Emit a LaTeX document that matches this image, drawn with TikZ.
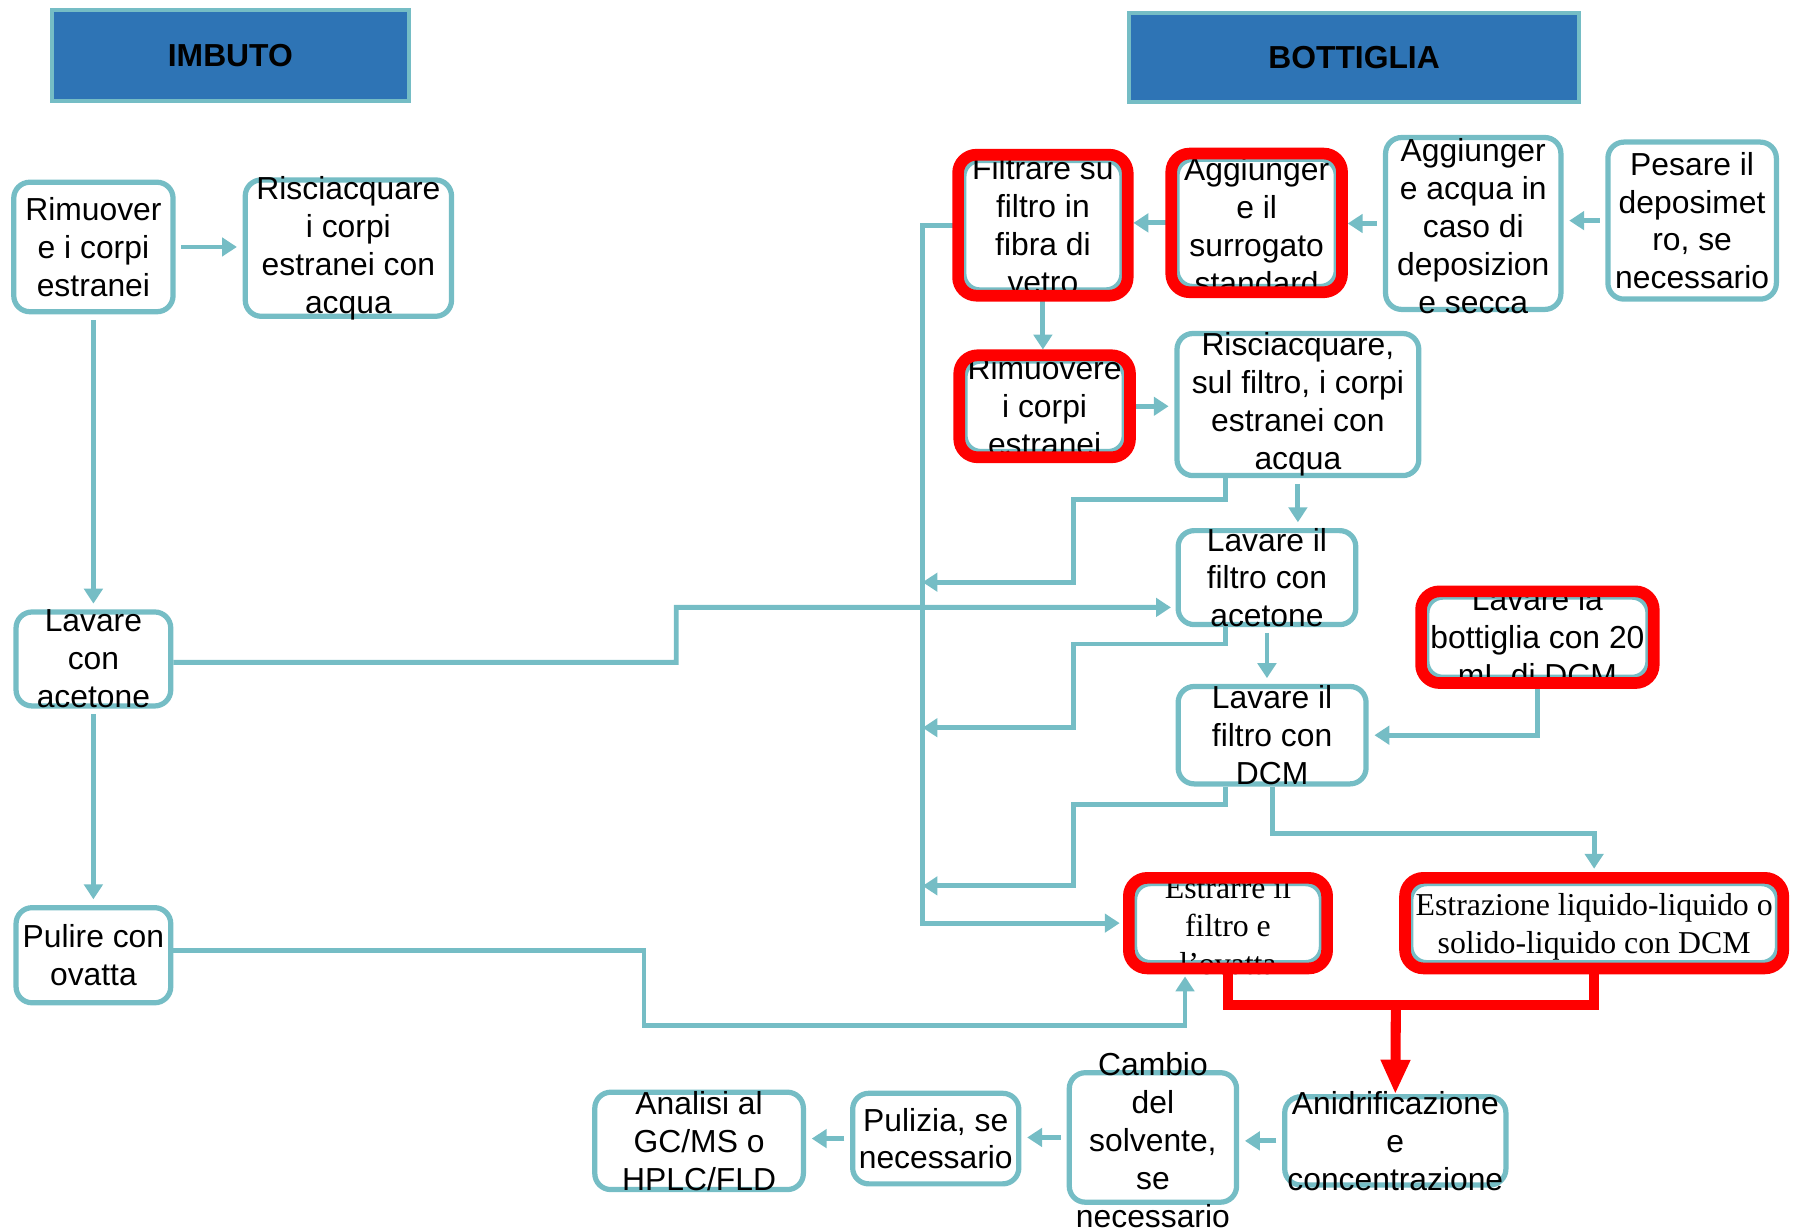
\documentclass[tikz,border=0pt]{standalone}
\usepackage{fontspec}
\setmainfont{Liberation Sans}
\newfontfamily\tnr{Liberation Serif}
\usepackage{xcolor}
\usetikzlibrary{arrows.meta,positioning,calc}

\definecolor{verdeacqua}{HTML}{75BDC5}
\definecolor{blutitolo}{HTML}{2E74B5}
\definecolor{rosso}{HTML}{FF0000}

\begin{document}
\begin{tikzpicture}[x=0.1mm,y=-0.1mm,
  every node/.style={font=\fontsize{7.9}{9.4}\selectfont},
  testo/.style={align=center,inner sep=0pt},
  serif/.style={testo,font=\tnr\fontsize{7.9}{9.4}\selectfont},
  titolo/.style={draw=verdeacqua,fill=blutitolo,line width=1pt,font=\bfseries\fontsize{7.9}{9.4}\selectfont},
  fase/.style={draw=verdeacqua,line width=1.3pt,rounded corners=1.4mm,fill=white,inner sep=0pt},
  evid/.style={fase,outer sep=0.5mm},
  cornice/.style={draw=rosso,line width=2.9pt,rounded corners=1.6mm},
  linea/.style={draw=verdeacqua,line width=1.2pt,-{Triangle[length=1.3mm,width=1.6mm]}},
  freccia/.style={linea,shorten <=0.5mm,shorten >=0.5mm},
  rossa/.style={draw=rosso,line width=2.5pt}
]
\useasboundingbox (0,0) rectangle (1568,1073);

% intestazioni
\node[titolo,minimum width=31.2mm,minimum height=7.9mm] (imbuto) at (201,48.5) {IMBUTO};
\node[titolo,minimum width=39.3mm,minimum height=7.8mm] (bottiglia) at (1181.5,50) {BOTTIGLIA};

% imbuto
\node[fase,minimum width=13.9mm,minimum height=11.3mm,label={[testo]center:Rimuover\\e i corpi\\estranei}] (rim1) at (81.5,215.5) {};
\node[fase,minimum width=18mm,minimum height=11.9mm,label={[testo]center:Risciacquare\\i corpi\\estranei con\\acqua}] (risc1) at (304,216.5) {};
\node[fase,minimum width=13.5mm,minimum height=8.2mm,label={[testo]center:Lavare\\con\\acetone}] (lav1) at (81.5,575) {};
\node[fase,minimum width=13.5mm,minimum height=8.3mm,label={[testo]center:Pulire con\\ovatta}] (pul1) at (81.5,833.5) {};

% bottiglia
\node[fase,minimum width=14.7mm,minimum height=13.7mm,label={[testo]center:Pesare il\\deposimet\\ro{,} se\\necessario}] (pesa) at (1476.5,192.5) {};
\node[fase,minimum width=15.3mm,minimum height=15mm,label={[testo,yshift=-0.25mm]center:Aggiunger\\e acqua in\\caso di\\deposizion\\e secca}] (acqua) at (1285.5,195) {};
\node[evid,minimum width=13.9mm,minimum height=11.1mm,label={[testo,yshift=-0.3mm]center:Aggiunger\\e il\\surrogato\\standard}] (surrog) at (1096.5,194.5) {};
\node[evid,minimum width=13.8mm,minimum height=11.3mm,label={[testo]center:Filtrare su\\filtro in\\fibra di\\vetro}] (filtra) at (910,196.5) {};
\node[evid,minimum width=13.9mm,minimum height=7.9mm,label={[testo]center:Rimuovere\\i corpi\\estranei}] (rim2) at (911.5,354.5) {};
\node[fase,minimum width=21.1mm,minimum height=12.4mm,label={[testo]center:Risciacquare{,}\\sul filtro{,} i corpi\\estranei con\\acqua}] (risc2) at (1132.5,353) {};
\node[fase,minimum width=15.5mm,minimum height=8.2mm,label={[testo]center:Lavare il\\filtro con\\acetone}] (lavac) at (1105.5,504) {};
\node[evid,minimum width=19.3mm,minimum height=7mm,label={[testo]center:Lavare la\\bottiglia con 20\\mL di DCM}] (bott20) at (1341.5,556) {};
\node[fase,minimum width=16.4mm,minimum height=8.5mm,label={[testo]center:Lavare il\\filtro con\\DCM}] (lavdcm) at (1110,641.5) {};
\node[evid,minimum width=16.3mm,minimum height=6.9mm,label={[serif,yshift=-0.2mm]center:Estrarre il\\filtro e\\l’ovatta}] (estrarre) at (1071.5,805.5) {};
\node[evid,minimum width=32mm,minimum height=6.9mm,label={[serif,yshift=-0.3mm]center:Estrazione liquido-liquido o\\solido-liquido con DCM}] (estrazione) at (1391,805.5) {};

% riga finale
\node[fase,minimum width=19.3mm,minimum height=7.7mm,label={[testo]center:Anidrificazione\\e\\concentrazione}] (anidr) at (1217.5,995.5) {};
\node[fase,minimum width=14.6mm,minimum height=11.3mm,label={[testo,yshift=-0.25mm]center:Cambio\\del\\solvente{,}\\se\\necessario}] (cambio) at (1006,992.5) {};
\node[fase,minimum width=14.5mm,minimum height=7.9mm,label={[testo]center:Pulizia{,} se\\necessario}] (puliz) at (816.5,993.5) {};
\node[fase,minimum width=18.2mm,minimum height=8.5mm,label={[testo]center:Analisi al\\GC/MS o\\HPLC/FLD}] (analisi) at (610,995.5) {};

\coordinate (bus) at (805,0);
\coordinate (uscita) at (1069,0);
\coordinate (r1) at (805,508);
\coordinate (r2) at (805,635);
\coordinate (r3) at (805,773);
\coordinate (nodo) at (1218,877);

% frecce imbuto
\draw[freccia] (rim1.east) -- (rim1.east -| risc1.west);
\draw[freccia] (rim1) -- (lav1);
\draw[freccia] (lav1) -- (pul1);
\draw[linea,shorten >=0.4mm] ([yshift=-0.3mm]lav1.east) -| (590,530) -- ([yshift=-2.6mm]lavac.west);
\draw[linea,shorten >=0.7mm] ([yshift=0.4mm]pul1.east) -| (562,895) -| ([xshift=-3.75mm]estrarre.south);

% frecce bottiglia
\draw[freccia] (pesa.west) -- (pesa.west -| acqua.east);
\draw[freccia] (acqua.west) -- (acqua.west -| surrog.east);
\draw[freccia] (surrog.west) -- (surrog.west -| filtra.east);
\draw[freccia] (filtra.south) -- (filtra.south |- rim2.north);
\draw[freccia] (rim2.east) -- (rim2.east -| risc2.west);
\draw[freccia] (risc2.south) -- (risc2.south |- lavac.north);
\draw[freccia] (lavac.south) -- (lavac.south |- lavdcm.north);
\draw[freccia] (bott20.south) |- (lavdcm.east);
\draw[linea,shorten >=0.8mm] (lavdcm.south) -- ++(0,41) -| (estrazione.north);

% collettore verso l'estrazione
\draw[linea,shorten >=0.8mm] (filtra.west) -- (filtra.west -| bus) |- (estrarre.west);
\draw[linea] (risc2.south -| uscita) |- (937,436) |- (r1);
\draw[linea] (lavac.south -| uscita) |- (937,562) |- (r2);
\draw[linea] (lavdcm.south -| uscita) |- (937,702) |- (r3);

% percorso rosso
\draw[rossa] (estrarre.south) -- ++(0,32) -| (estrazione.south);
\draw[rossa,-{Triangle[length=3mm,width=2.4mm]}] (nodo) -- (anidr.north);

\draw[freccia] (anidr.west) -- (anidr.west -| cambio.east);
\draw[freccia] (cambio.west) -- (cambio.west -| puliz.east);
\draw[freccia] (puliz.west) -- (puliz.west -| analisi.east);

\foreach \n in {filtra,surrog,rim2,bott20,estrarre,estrazione}
  \draw[cornice] (\n.south west) rectangle (\n.north east);
\end{tikzpicture}
\end{document}
